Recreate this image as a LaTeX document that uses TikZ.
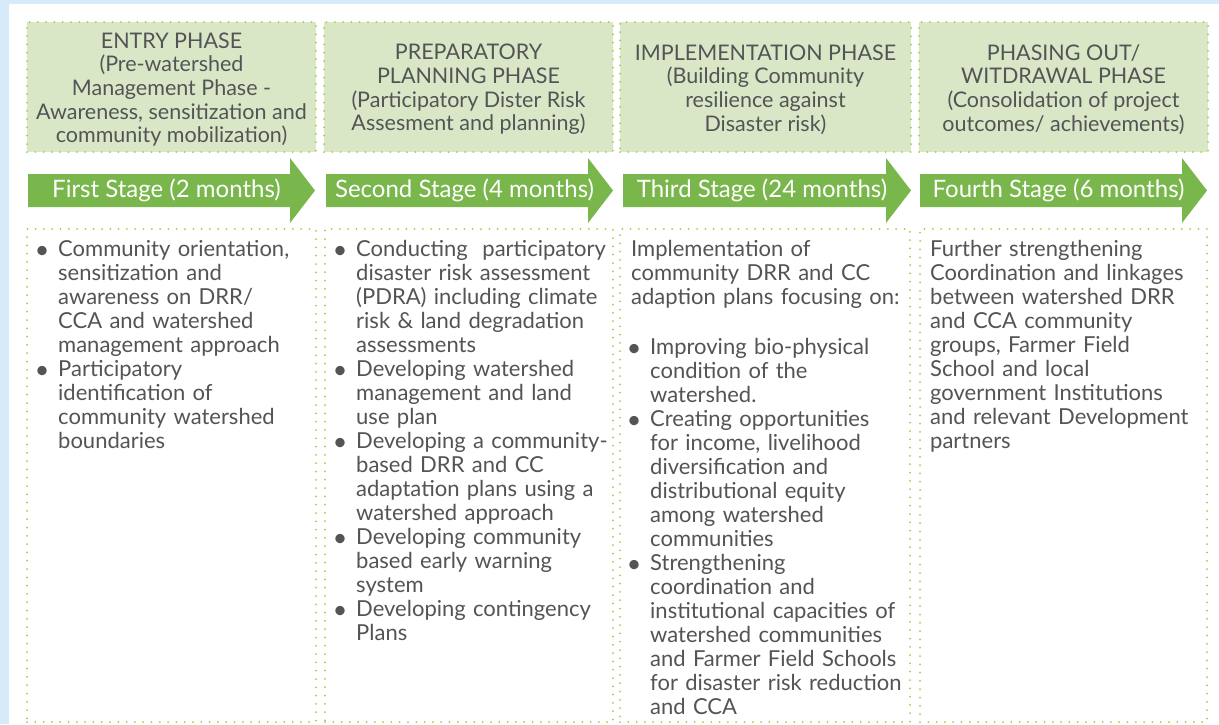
\documentclass[tikz,border=0pt]{standalone}
\usepackage{fontspec}
\setmainfont{Lato}
\usetikzlibrary{positioning}

\definecolor{skyback}{HTML}{D5EBF9}
\definecolor{phasefill}{HTML}{D9E7C6}
\definecolor{dotgreen}{HTML}{A6CC42}
\definecolor{stagegreen}{HTML}{79B64B}
\definecolor{textgray}{HTML}{545456}

% bullet with hanging indent, lines split by \newline
\newcommand{\bitem}[1]{\noindent\hangindent=19pt\hangafter=1\hbox to 19pt{\makebox[6pt]{\raisebox{-1.8pt}{\fontsize{25}{25}\selectfont\textbullet}}\hss}#1\par}
% green stage arrow: left x, tip x, name, text
\newcommand{\stagearrow}[4]{%
  \fill[stagegreen] (#1,174) -- ({#2-25},174) -- ({#2-25},158) -- (#2,190.5)
    -- ({#2-25},223) -- ({#2-25},207) -- (#1,207) -- cycle;
  \node[stagetext] (#3) at ({(#1+#2)/2-5},190.5) {#4};}

\begin{document}
\begin{tikzpicture}[x=1pt, y=-1pt,
    dots/.style={draw=dotgreen, line width=2pt, dash pattern=on 0pt off 8.3pt, line cap=round},
    phase/.style={dots, fill=phasefill, rectangle, minimum height=130pt, outer sep=0pt, inner sep=0pt},
    phasetext/.style={text=textgray, align=center, inner sep=0pt, yshift=-2.5pt, font=\fontsize{21.5}{23.7}\selectfont},
    panel/.style={dots, rectangle, minimum height=493pt, outer sep=0pt},
    listtext/.style={text=textgray, text width=285pt, align=left, inner sep=0pt, font=\fontsize{22}{24}\selectfont},
    stagetext/.style={text=white, inner sep=0pt, font=\fontsize{24}{26}\selectfont}
]
    \fill[skyback] (0,0) rectangle (1219,724);
    \fill[white] (9,4) rectangle (1219,724);
    \useasboundingbox (0,0) rectangle (1219,724);

    % phases
    \node[phase, minimum width=289pt, label={[phasetext]center:{ENTRY PHASE\\(Pre-watershed\\Management Phase -\\Awareness, sensitization and\\community mobilization)}}] (ph1) at (171.5,87) {};
    \node[phase, minimum width=289pt, label={[phasetext]center:{PREPARATORY\\PLANNING PHASE\\(Participatory Dister Risk\\Assesment and planning)}}] (ph2) at (468.5,87) {};
    \node[phase, minimum width=291pt, label={[phasetext]center:{IMPLEMENTATION PHASE\\(Building Community\\resilience against\\Disaster risk)}}] (ph3) at (765.5,87) {};
    \node[phase, minimum width=289pt, label={[phasetext]center:{PHASING OUT/\\WITDRAWAL PHASE\\(Consolidation of project\\outcomes/ achievements)}}] (ph4) at (1063.5,87) {};

    % stages
    \stagearrow{28}{315}{st1}{First Stage (2 months)}
    \stagearrow{326}{613}{st2}{Second Stage (4 months)}
    \stagearrow{623}{911}{st3}{Third Stage (24 months)}
    \stagearrow{920}{1207}{st4}{Fourth Stage (6 months)}

    % activities
    \node[panel, minimum width=289pt] (bx1) at (171.5,475.5) {};
    \node[panel, minimum width=288pt] (bx2) at (469,475.5) {};
    \node[panel, minimum width=290pt] (bx3) at (765,475.5) {};
    \node[panel, minimum width=287pt] (bx4) at (1063.5,475.5) {};

    \node[listtext, below right=11pt and 12pt of bx1.north west] (tx1) {%
      \bitem{Community orientation,\newline sensitization and\newline awareness on DRR/\newline CCA and watershed\newline management approach}
      \bitem{Participatory\newline identification of\newline community watershed\newline boundaries}};
    \node[listtext, below right=11pt and 12pt of bx2.north west] (tx2) {%
      \bitem{Conducting~ participatory\newline disaster risk assessment\newline (PDRA) including climate\newline risk \& land degradation\newline assessments}
      \bitem{Developing watershed\newline management and land\newline use plan}
      \bitem{Developing a community-\newline based DRR and CC\newline adaptation plans using a\newline watershed approach}
      \bitem{Developing community\newline based early warning\newline system}
      \bitem{Developing contingency\newline Plans}};
    \node[listtext, below right=11pt and 11pt of bx3.north west] (tx3) {%
      \noindent Implementation of\newline community DRR and CC\newline adaption plans focusing on:\par\vskip 26pt
      \bitem{Improving bio-physical\newline condition of the\newline watershed.}
      \bitem{Creating opportunities\newline for income, livelihood\newline diversification and\newline distributional equity\newline among watershed\newline communities}
      \bitem{Strengthening\newline coordination and\newline institutional capacities of\newline watershed communities\newline and Farmer Field Schools\newline for disaster risk reduction\newline and CCA}};
    \node[listtext, below right=11pt and 10pt of bx4.north west] (tx4) {%
      \noindent Further strengthening\newline Coordination and linkages\newline between watershed DRR\newline and CCA community\newline groups, Farmer Field\newline School and local\newline government Institutions\newline and relevant Development\newline partners};
\end{tikzpicture}
\end{document}
